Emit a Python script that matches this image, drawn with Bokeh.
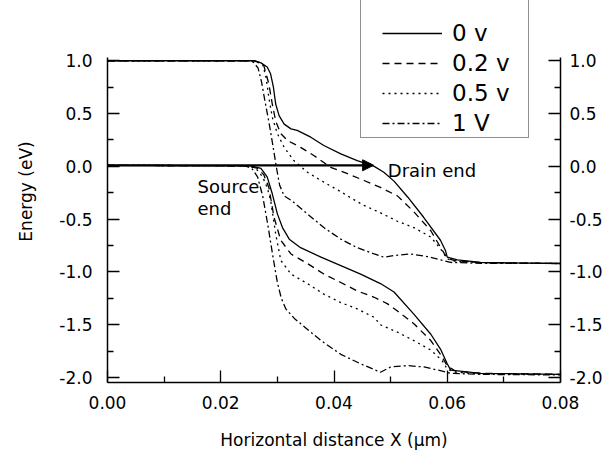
from bokeh.plotting import figure
from bokeh.models import (LinearAxis, FixedTicker, PrintfTickFormatter, Range1d, Legend, LegendItem,
                          Arrow, NormalHead, Label)
from bokeh.embed import file_html
from bokeh.resources import INLINE

FONT = "DejaVu Sans"

# ---- data ----
biases = ["0 v", "0.2 v", "0.5 v", "1 V"]

# upper band (conduction)
x_up_0 = [0, 0.026, 0.0271, 0.0282, 0.0288, 0.0293, 0.0297, 0.0303, 0.0312, 0.0324, 0.0335, 0.0359, 0.0382,
          0.0412, 0.0441, 0.0471, 0.0488, 0.0506, 0.0530, 0.0558, 0.0588, 0.0597, 0.0600, 0.0618, 0.0659, 0.08]
y_up_0 = [1.0, 1.0, 0.98, 0.94, 0.876, 0.75, 0.59, 0.48, 0.40, 0.355, 0.34, 0.276, 0.197,
          0.118, 0.055, 0.0, -0.056, -0.14, -0.29, -0.48, -0.70, -0.80, -0.86, -0.885, -0.91, -0.92]

x_up_02 = [0, 0.0258, 0.0268, 0.0276, 0.0285, 0.0291, 0.0297, 0.0306, 0.0318, 0.0341, 0.0365, 0.0394, 0.0424,
           0.0453, 0.0482, 0.0512, 0.0541, 0.0571, 0.0588, 0.0600, 0.0615, 0.066, 0.08]
y_up_02 = [1.0, 1.0, 0.98, 0.955, 0.78, 0.59, 0.43, 0.31, 0.244, 0.18, 0.10, -0.01, -0.07,
           -0.134, -0.20, -0.28, -0.43, -0.61, -0.766, -0.87, -0.895, -0.912, -0.92]

x_up_05 = [0, 0.0255, 0.0265, 0.0274, 0.028, 0.0285, 0.0291, 0.030, 0.0312, 0.0329, 0.0353, 0.0382, 0.0412,
           0.043, 0.0453, 0.0482, 0.0512, 0.0541, 0.0571, 0.0588, 0.0600, 0.0615, 0.066, 0.08]
y_up_05 = [1.0, 1.0, 0.985, 0.97, 0.84, 0.65, 0.465, 0.31, 0.18, 0.055, -0.056, -0.15, -0.24,
           -0.30, -0.37, -0.44, -0.52, -0.58, -0.67, -0.78, -0.876, -0.90, -0.912, -0.92]

x_up_1 = [0, 0.0248, 0.0258, 0.0266, 0.0272, 0.0278, 0.0285, 0.0292, 0.0298, 0.0304, 0.0312, 0.0324, 0.0353,
          0.0382, 0.0412, 0.0441, 0.0471, 0.0488, 0.0506, 0.0535, 0.0565, 0.0588, 0.0606, 0.066, 0.08]
y_up_1 = [1.0, 1.0, 0.985, 0.93, 0.80, 0.62, 0.42, 0.20, 0.0, -0.18, -0.28, -0.32, -0.45,
          -0.58, -0.69, -0.77, -0.83, -0.86, -0.845, -0.83, -0.855, -0.885, -0.91, -0.918, -0.92]

# lower band (valence)
x_lo_0 = [0, 0.0253, 0.0271, 0.0282, 0.0291, 0.030, 0.0309, 0.0321, 0.0341, 0.0377, 0.0412, 0.0447, 0.0482,
          0.0506, 0.0541, 0.0571, 0.0588, 0.0600, 0.0606, 0.0659, 0.08]
y_lo_0 = [0.01, 0.005, -0.02, -0.10, -0.26, -0.45, -0.58, -0.69, -0.77, -0.86, -0.94, -1.02, -1.11,
          -1.19, -1.40, -1.59, -1.73, -1.87, -1.93, -1.96, -1.97]

x_lo_02 = [0, 0.025, 0.0265, 0.0276, 0.0285, 0.0294, 0.0306, 0.0324, 0.0353, 0.0382, 0.0412, 0.0441, 0.0471,
           0.0494, 0.0512, 0.0541, 0.0571, 0.0588, 0.0600, 0.0615, 0.066, 0.08]
y_lo_02 = [0.01, 0.005, -0.02, -0.08, -0.2, -0.48, -0.70, -0.83, -0.92, -1.02, -1.10, -1.18, -1.24,
           -1.30, -1.37, -1.49, -1.65, -1.78, -1.89, -1.94, -1.96, -1.97]

x_lo_05 = [0, 0.0248, 0.0262, 0.0274, 0.0282, 0.0288, 0.0297, 0.0306, 0.0324, 0.0353, 0.0382, 0.0412, 0.0441,
           0.0471, 0.0482, 0.0512, 0.0541, 0.0571, 0.0591, 0.0600, 0.0615, 0.066, 0.08]
y_lo_05 = [0.01, 0.005, -0.02, -0.10, -0.2, -0.32, -0.64, -0.89, -1.02, -1.11, -1.21, -1.29, -1.35,
           -1.43, -1.50, -1.57, -1.65, -1.74, -1.84, -1.92, -1.95, -1.965, -1.97]

x_lo_1 = [0, 0.0243, 0.0255, 0.0265, 0.0274, 0.0283, 0.0292, 0.0300, 0.0307, 0.0315, 0.0330, 0.0350, 0.0377,
          0.0412, 0.0447, 0.0482, 0.0500, 0.0530, 0.0559, 0.0588, 0.0606, 0.066, 0.08]
y_lo_1 = [0.01, 0.005, -0.02, -0.10, -0.28, -0.55, -0.85, -1.10, -1.25, -1.35, -1.44, -1.53, -1.65,
          -1.78, -1.87, -1.95, -1.90, -1.887, -1.90, -1.935, -1.96, -1.97, -1.975]

x_ticks = [0.0, 0.02, 0.04, 0.06, 0.08]
y_ticks = [-2.0, -1.5, -1.0, -0.5, 0.0, 0.5, 1.0]

arrow_x = [0.0, 0.047]
arrow_y = [0.01, 0.01]

Y_LO, Y_AX_TOP = -2.047, 1.031
Y_HI = Y_LO + 382 / 105.6  # frame reaches the top of the window; axis lines stop at Y_AX_TOP

# ---- figure ----
p = figure(frame_width=453, frame_height=382, width=610, height=453,
           x_range=Range1d(0, 0.08), y_range=Range1d(Y_LO, Y_HI),
           output_backend="svg", toolbar_location=None,
           min_border_left=107, min_border_right=50, min_border_top=0, min_border_bottom=71)
p.outline_line_color = None
p.xgrid.visible = False
p.ygrid.visible = False
p.background_fill_color = "white"
p.border_fill_color = "white"

dashes = ["solid", "7 5", "2 4", "7 3 2 3"]
upper = [(x_up_0, y_up_0), (x_up_02, y_up_02), (x_up_05, y_up_05), (x_up_1, y_up_1)]
lower = [(x_lo_0, y_lo_0), (x_lo_02, y_lo_02), (x_lo_05, y_lo_05), (x_lo_1, y_lo_1)]
legend_renderers = []
for (xu, yu), (xl, yl), d in zip(upper, lower, dashes):
    r = p.line(xu, yu, line_color="black", line_width=1.3, line_dash=d)
    p.line(xl, yl, line_color="black", line_width=1.3, line_dash=d)
    legend_renderers.append(r)

# axes
xt = FixedTicker(ticks=x_ticks, minor_ticks=[0.01, 0.03, 0.05, 0.07])
yt = FixedTicker(ticks=y_ticks, minor_ticks=[-1.75, -1.25, -0.75, -0.25, 0.25, 0.75])

def style_axis(ax, standoff):
    ax.axis_line_color = "black"
    ax.axis_line_width = 1.5
    ax.major_tick_in = 12
    ax.major_tick_out = 0
    ax.minor_tick_in = 6
    ax.minor_tick_out = 0
    ax.major_tick_line_width = 1.3
    ax.minor_tick_line_width = 1.3
    ax.major_label_text_font = FONT
    ax.major_label_text_font_size = "17px"
    ax.major_label_text_color = "black"
    ax.major_label_standoff = standoff
    ax.axis_label_text_font = FONT
    ax.axis_label_text_font_size = "17px"
    ax.axis_label_text_font_style = "normal"
    ax.axis_label_text_color = "black"

xa = p.xaxis[0]
xa.ticker = xt
xa.formatter = PrintfTickFormatter(format="%.2f")
xa.axis_label = "Horizontal distance X (\u03bcm)"
style_axis(xa, 13)
xa.axis_label_standoff = 18

ya = p.yaxis[0]
ya.ticker = yt
ya.formatter = PrintfTickFormatter(format="%.1f")
ya.axis_label = "Energy (eV)"
ya.bounds = (Y_LO, Y_AX_TOP)
ya.axis_label_text_baseline = "middle"
style_axis(ya, 15)
ya.axis_label_standoff = 20

ra = LinearAxis(ticker=yt, formatter=PrintfTickFormatter(format="%.1f"), bounds=(Y_LO, Y_AX_TOP))
style_axis(ra, 9)
p.add_layout(ra, "right")

# arrow and annotations
p.add_layout(Arrow(x_start=arrow_x[0], y_start=arrow_y[0], x_end=arrow_x[1], y_end=arrow_y[1],
                   line_width=2.2, line_color="black",
                   end=NormalHead(size=11, fill_color="black", line_color="black", line_width=1)))
for txt, xx, yy in [("Drain end", 0.0495, -0.04), ("Source", 0.0159, -0.19), ("end", 0.0159, -0.40)]:
    p.add_layout(Label(x=xx, y=yy, text=txt, text_font=FONT, text_font_size="18px",
                       text_color="black", text_baseline="alphabetic"))

# legend box (frame only) and legend items
dummy = p.line(x=[], y=[], line_alpha=0)
box = Legend(items=[LegendItem(label=" ", renderers=[dummy])], location=(253, 244),
             padding=0, margin=0, spacing=0, glyph_width=147, glyph_height=165, label_standoff=0,
             label_width=20, border_line_color="#222222", border_line_width=1.3,
             background_fill_color="white", background_fill_alpha=1.0,
             label_text_font_size="1px")
p.add_layout(box, "center")

items = [LegendItem(label=b, renderers=[r]) for b, r in zip(biases, legend_renderers)]
leg = Legend(items=items, location=(275, 244), padding=0, margin=0, spacing=0,
             glyph_width=60, glyph_height=30, label_height=30, label_standoff=10,
             border_line_color=None, background_fill_alpha=0.0,
             label_text_font=FONT, label_text_font_size="23px", label_text_color="black")
p.add_layout(leg, "center")

open("out.html", "w").write(file_html(p, INLINE))
